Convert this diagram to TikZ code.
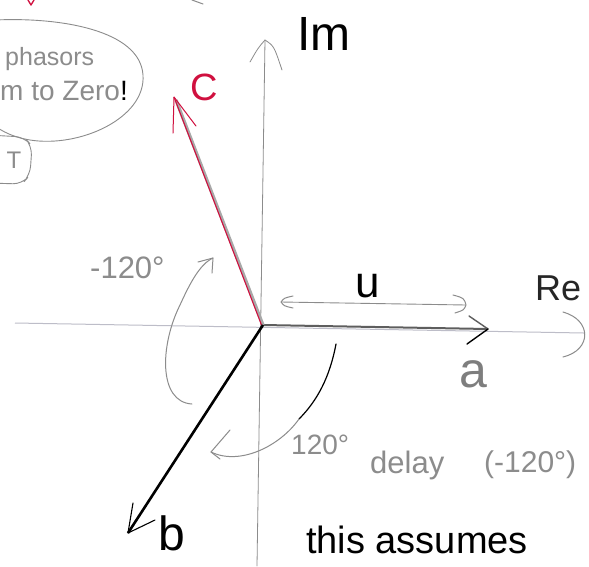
\documentclass[tikz,border=0pt]{standalone}
\usepackage{fontspec}
\setmainfont{Liberation Sans}
\usetikzlibrary{calc}
\definecolor{pencil}{HTML}{8C8C8C}
\definecolor{lightpencil}{HTML}{A8A8A8}
\definecolor{axisgray}{HTML}{BDBDC8}
\definecolor{inkred}{HTML}{D0103F}
\definecolor{darkpencil}{HTML}{5E5E5E}
\newcommand{\fsz}[1]{\fontsize{#1}{#1}\selectfont}
\begin{document}
\begin{tikzpicture}[x=1pt,y=-1pt,
  lbl/.style={inner sep=0pt, anchor=base west},
  clbl/.style={inner sep=0pt, anchor=base},
  axisline/.style={draw=pencil, line width=0.8pt, line cap=round},
  barb/.style={line width=1pt, line cap=round, line join=round},
  pencilcurve/.style={draw=pencil, line width=1pt, line cap=round},
]
\useasboundingbox (0,0) rectangle (589,566);
\fill[white] (0,0) rectangle (589,566);

% ---------- coordinates ----------
\coordinate (O) at (263,325);
\coordinate (imtop) at (265,40);
\coordinate (imbot) at (257,566);
\coordinate (releft) at (15,323);
\coordinate (reright) at (584,333);
\coordinate (A) at (488,329);
\coordinate (B) at (128,533);
\coordinate (C) at (174,97);
\coordinate (uL) at (281,302);
\coordinate (uR) at (466,305);
\coordinate (m1s) at (192,404);
\coordinate (m1e) at (213,258);
\coordinate (d1s) at (336,344);
\coordinate (d1m) at (299,419);
\coordinate (d1e) at (211,452);

% ---------- axes ----------
\draw[draw=axisgray, line width=1pt] (releft) -- (reright);
\draw[pencilcurve] (563,312) .. controls (592,320) and (592,350) .. (563,357);
\draw[axisline] (imbot) -- (imtop);
\draw[axisline, line join=round] (250,62) .. controls (258,48) .. (imtop) .. controls (274,46) .. (282,70);

% ---------- phasor a ----------
\draw[darkpencil, line width=2pt] (O) -- (A);
\draw[barb, darkpencil, line width=1.4pt] (469,316) -- (A);
\draw[barb, black, line width=1.4pt] (A) -- (467,344);

% ---------- u span ----------
\draw[pencil, line width=0.9pt] (uL) -- (uR);
\draw[barb, pencil] (293,296) .. controls (284,298) .. (uL) .. controls (284,306) .. (293,308);
\draw[barb, pencil] (453,295) .. controls (464,298) .. (uR) .. controls (464,310) .. (455,313);

% ---------- phasor c ----------
\draw[lightpencil, line width=3.2pt] (O) -- ($(C)+(2,3)$);
\draw[inkred, line width=1.1pt] ($(O)+(-1.5,0)$) -- (C);
\draw[barb, inkred] (173,133) -- (C) -- (196,126);

% ---------- phasor b ----------
\draw[black, line width=2.6pt] (O) -- (B);
\draw[barb, black, line width=1.1pt] (133,503) -- (B) -- (155,520);

% ---------- -120 arc ----------
\draw[pencilcurve] (m1s) .. controls (158,402) and (160,345) .. (180,305) .. controls (190,283) and (200,264) .. (m1e);
\draw[barb, pencil] (198,262) -- (m1e) -- (212,273);

% ---------- 120 delay arc ----------
\draw[black, line width=1.2pt, line cap=round] (d1s) .. controls (330,376) and (318,400) .. (d1m);
\draw[pencilcurve] (d1m) .. controls (280,446) and (240,466) .. (d1e);
\draw[barb, pencil] (230,430) -- (d1e) -- (220,459);

% ---------- labels ----------
\node[lbl, black] (lIm) at (297,50) {\fsz{48}Im};
\node[lbl, black!85] (lRe) at (535,300) {\fsz{36}Re};
\node[clbl, black] (lu) at (368,297) {\fsz{44}u};
\node[clbl, pencil!90!black] (la) at (473,387) {\fsz{50}a};
\node[clbl, inkred] (lc) at (204,100) {\fsz{38}C};
\node[clbl, black] (lb) at (172,550) {\fsz{48}b};
\node[lbl, pencil] (lm120) at (90,278) {\fsz{31}-120°};
\node[lbl, pencil] (l120) at (291,454) {\fsz{28}120°};
\node[lbl, pencil] (ldelay) at (370,473) {\fsz{31}delay};
\node[lbl, pencil] (lneg) at (484,472) {\fsz{30}(-120°)};
\node[lbl, black] (lthis) at (306,553) {\fsz{38}this assumes};

% ---------- note bubble (top left) ----------
\draw[pencil, line width=0.9pt] (-5,20) .. controls (60,17) and (140,30) .. (143,75)
  .. controls (146,118) and (80,148) .. (30,140) .. controls (12,137) and (2,131) .. (-5,126);
\node[lbl, pencil] (lphasors) at (5,65) {\fsz{25}phasors};
\node[lbl, pencil] (lzero) at (0,100) {\fsz{28}m to Zero\textcolor{black}{!}};
\draw[pencil, line width=0.9pt, rounded corners=9pt] (-12,135) -- (24,137) -- (32,146) -- (30,175) -- (22,184) -- (-12,183);
\node[clbl, pencil] (lT) at (14,168) {\fsz{24}T};

% ---------- fragments at the top edge ----------
\draw[barb, inkred, line width=1.3pt] (28,0) -- (31,5) -- (34,0);
\draw[barb, pencil] (192,0) -- (203,4);
\end{tikzpicture}
\end{document}
